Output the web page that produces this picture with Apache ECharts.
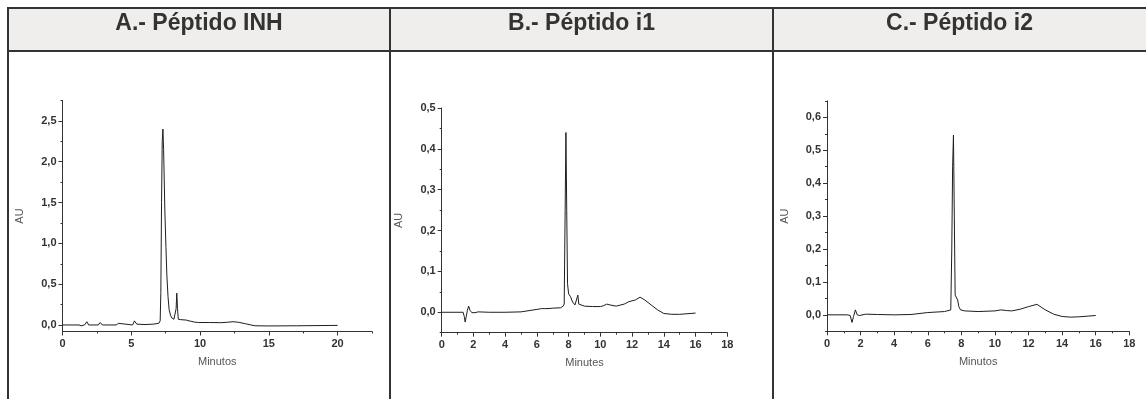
<!DOCTYPE html>
<html>
<head>
<meta charset="utf-8">
<script src="https://cdn.jsdelivr.net/npm/echarts@6/dist/echarts.min.js"></script>
<style>
  html, body { margin: 0; padding: 0; background: #ffffff; }
  #chart { width: 1146px; height: 399px; }
</style>
</head>
<body>
<div id="chart"></div>
<script>
// Panel headings
const panelTitles = ['A.- Péptido INH', 'B.- Péptido i1', 'C.- Péptido i2'];
const xAxisNames = ['Minutos', 'Minutes', 'Minutos'];

// Panel A: INH peptide chromatogram (minutes, AU)
const inhTime = [0, 1.2, 1.35, 1.48, 1.6, 1.77, 1.9, 2.6, 2.74, 2.9, 3.9, 4.07, 4.2, 5.1, 5.23, 5.4, 6.0, 6.6, 7.0, 7.1, 7.15, 7.2, 7.25, 7.3, 7.35, 7.44, 7.52, 7.59, 7.67, 7.75, 7.85, 7.95, 8.1, 8.2, 8.26, 8.31, 8.36, 8.42, 8.6, 9.0, 9.2, 9.27, 9.35, 9.6, 9.9, 10.7, 11.5, 12.0, 12.4, 12.8, 13.3, 13.7, 14.0, 15.0, 17.0, 20.0];
const inhAU   = [0, 0, -0.01, -0.02, 0.0, 0.04, 0.0, 0.0, 0.03, 0.0, 0.0, 0.02, 0.0, 0.0, 0.05, 0.01, 0.005, 0.01, 0.02, 0.05, 0.4, 1.5, 2.25, 2.4, 2.15, 1.41, 0.95, 0.6, 0.35, 0.19, 0.12, 0.086, 0.07, 0.065, 0.2, 0.39, 0.2, 0.07, 0.065, 0.06, 0.05, 0.058, 0.045, 0.035, 0.03, 0.03, 0.028, 0.033, 0.04, 0.033, 0.015, 0.0, -0.01, -0.012, -0.01, -0.005];

// Panel B: i1 peptide chromatogram
const i1Time = [0, 1.35, 1.42, 1.48, 1.55, 1.62, 1.7, 1.78, 1.9, 2.1, 2.3, 3.0, 4.0, 5.0, 5.5, 6.0, 6.3, 6.4, 6.5, 6.7, 7.0, 7.5, 7.65, 7.72, 7.78, 7.83, 7.88, 7.93, 8.0, 8.05, 8.12, 8.25, 8.4, 8.5, 8.58, 8.64, 8.75, 9.0, 9.5, 10.0, 10.2, 10.4, 10.6, 11.0, 11.5, 11.8, 12.2, 12.5, 12.8, 13.2, 13.6, 14.0, 14.5, 15.0, 16.0];
const i1AU   = [0, 0, -0.01, -0.024, -0.01, 0.005, 0.015, 0.005, -0.001, -0.001, 0.001, 0, 0, 0.001, 0.004, 0.007, 0.009, 0.012, 0.009, 0.009, 0.01, 0.011, 0.015, 0.02, 0.25, 0.44, 0.25, 0.07, 0.045, 0.048, 0.038, 0.025, 0.018, 0.02, 0.042, 0.02, 0.016, 0.015, 0.014, 0.014, 0.016, 0.02, 0.018, 0.015, 0.02, 0.026, 0.03, 0.037, 0.03, 0.018, 0.006, -0.003, -0.005, -0.005, -0.002];

// Panel C: i2 peptide chromatogram
const i2Time = [0, 1.2, 1.3, 1.38, 1.49, 1.58, 1.69, 1.8, 1.95, 2.3, 3.0, 4.0, 5.0, 6.0, 7.0, 7.37, 7.43, 7.48, 7.53, 7.58, 7.63, 7.71, 7.78, 7.85, 7.95, 8.2, 9.0, 10.0, 10.36, 10.7, 11.0, 11.5, 12.0, 12.5, 13.0, 13.5, 14.0, 14.5, 15.0, 16.0];
const i2AU   = [0, 0, 0.004, -0.002, -0.023, -0.005, 0.015, 0.0, -0.002, 0.002, 0.001, 0.0, 0.001, 0.007, 0.01, 0.015, 0.2, 0.45, 0.546, 0.3, 0.06, 0.056, 0.045, 0.025, 0.015, 0.012, 0.01, 0.012, 0.015, 0.013, 0.012, 0.017, 0.025, 0.032, 0.015, 0.002, -0.005, -0.007, -0.006, -0.002];

// Axis ticks per panel
const inhXTicks = [0, 5, 10, 15, 20];
const inhXMinor = [2.5, 7.5, 12.5, 17.5, 22.5];
const inhYTicks = [0, 0.5, 1.0, 1.5, 2.0, 2.5];
const inhYMinor = [0.25, 0.75, 1.25, 1.75, 2.25, 2.75];

const i1XTicks = [0, 2, 4, 6, 8, 10, 12, 14, 16, 18];
const i1XMinor = [1, 3, 5, 7, 9, 11, 13, 15, 17];
const i1YTicks = [0, 0.1, 0.2, 0.3, 0.4, 0.5];
const i1YMinor = [-0.05, 0.05, 0.15, 0.25, 0.35, 0.45];

const i2XTicks = [0, 2, 4, 6, 8, 10, 12, 14, 16, 18];
const i2XMinor = [1, 3, 5, 7, 9, 11, 13, 15, 17];
const i2YTicks = [0, 0.1, 0.2, 0.3, 0.4, 0.5, 0.6];
const i2YMinor = [-0.05, 0.05, 0.15, 0.25, 0.35, 0.45, 0.55, 0.65];

const panels = [
  { time: inhTime, au: inhAU, xr: [0, 22.5], yr: [-0.08, 2.75], xt: inhXTicks, xm: inhXMinor, yt: inhYTicks, ym: inhYMinor,
    grid: { left: 62.5, top: 100.5, width: 309.5, height: 231 } },
  { time: i1Time, au: i1AU, xr: [0, 18], yr: [-0.05, 0.5], xt: i1XTicks, xm: i1XMinor, yt: i1YTicks, ym: i1YMinor,
    grid: { left: 441.7, top: 108, width: 285.6, height: 224.7 } },
  { time: i2Time, au: i2AU, xr: [0, 18], yr: [-0.05, 0.65], xt: i2XTicks, xm: i2XMinor, yt: i2YTicks, ym: i2YMinor,
    grid: { left: 827, top: 100.9, width: 302.3, height: 230.4 } }
];

const FONT = 'Liberation Sans, Arial, sans-serif';
const AXIS_COLOR = '#333333';

const grids = [], xAxes = [], yAxes = [], series = [];
panels.forEach((p, i) => {
  grids.push(Object.assign({ containLabel: false }, p.grid));
  const baseX = {
    type: 'value', gridIndex: i, min: p.xr[0], max: p.xr[1], position: 'bottom',
    splitLine: { show: false }, splitArea: { show: false }
  };
  const baseY = {
    type: 'value', gridIndex: i, min: p.yr[0], max: p.yr[1], position: 'left',
    splitLine: { show: false }, splitArea: { show: false }
  };
  // main x axis: line, major ticks, labels, name
  xAxes.push(Object.assign({}, baseX, {
    axisLine: { show: true, onZero: false, lineStyle: { color: AXIS_COLOR, width: 1 } },
    axisTick: { show: true, length: 4, customValues: p.xt, lineStyle: { color: AXIS_COLOR } },
    axisLabel: {
      show: true, customValues: p.xt, margin: 7, color: '#333333', fontWeight: 'bold',
      fontSize: 11, fontFamily: FONT, formatter: v => String(v)
    },
    name: xAxisNames[i], nameLocation: 'middle', nameGap: 25,
    nameTextStyle: { color: '#555555', fontSize: 11, fontFamily: FONT }
  }));
  // minor x ticks
  xAxes.push(Object.assign({}, baseX, {
    axisLine: { show: false, onZero: false },
    axisTick: { show: true, length: 2, customValues: p.xm, lineStyle: { color: AXIS_COLOR } },
    axisLabel: { show: false }
  }));
  // main y axis
  yAxes.push(Object.assign({}, baseY, {
    axisLine: { show: true, onZero: false, lineStyle: { color: AXIS_COLOR, width: 1 } },
    axisTick: { show: true, length: 4, customValues: p.yt, lineStyle: { color: AXIS_COLOR } },
    axisLabel: {
      show: true, customValues: p.yt, margin: 6, color: '#333333', fontWeight: 'bold',
      fontSize: 11, fontFamily: FONT, formatter: v => v.toFixed(1).replace('.', ',')
    },
    name: 'AU', nameLocation: 'middle', nameGap: 37,
    nameTextStyle: { color: '#555555', fontSize: 11, fontFamily: FONT }
  }));
  // minor y ticks
  yAxes.push(Object.assign({}, baseY, {
    axisLine: { show: false, onZero: false },
    axisTick: { show: true, length: 2, customValues: p.ym, lineStyle: { color: AXIS_COLOR } },
    axisLabel: { show: false }
  }));
  series.push({
    type: 'line', xAxisIndex: i * 2, yAxisIndex: i * 2,
    data: p.time.map((t, k) => [t, p.au[k]]),
    showSymbol: false, smooth: false, silent: true,
    lineStyle: { color: '#1e1e1e', width: 1 },
    clip: false
  });
});

// Table frame: header band, borders, headings
const cellBounds = [[8, 390], [390, 773], [773, 1146]];
const graphics = [
  { type: 'rect', shape: { x: 8, y: 8, width: 1138, height: 43 }, style: { fill: '#efeeec' }, silent: true },
  { type: 'rect', shape: { x: 7, y: 7, width: 1139, height: 2 }, style: { fill: '#333333' }, silent: true },
  { type: 'rect', shape: { x: 7, y: 50, width: 1139, height: 2 }, style: { fill: '#333333' }, silent: true },
  { type: 'rect', shape: { x: 7, y: 7, width: 2, height: 392 }, style: { fill: '#333333' }, silent: true },
  { type: 'rect', shape: { x: 389, y: 7, width: 2, height: 392 }, style: { fill: '#333333' }, silent: true },
  { type: 'rect', shape: { x: 772, y: 7, width: 2, height: 392 }, style: { fill: '#333333' }, silent: true }
];
panelTitles.forEach((t, i) => {
  const c = cellBounds[i];
  graphics.push({
    type: 'text', x: (c[0] + c[1]) / 2, y: 24, silent: true,
    style: {
      text: t, align: 'center', verticalAlign: 'middle', fill: '#333333',
      font: 'bold 23px ' + FONT
    }
  });
});

const chart = echarts.init(document.getElementById('chart'), null, { renderer: 'canvas' });
chart.setOption({
  animation: false,
  backgroundColor: '#ffffff',
  grid: grids,
  xAxis: xAxes,
  yAxis: yAxes,
  series: series,
  graphic: graphics
});
</script>
</body>
</html>
